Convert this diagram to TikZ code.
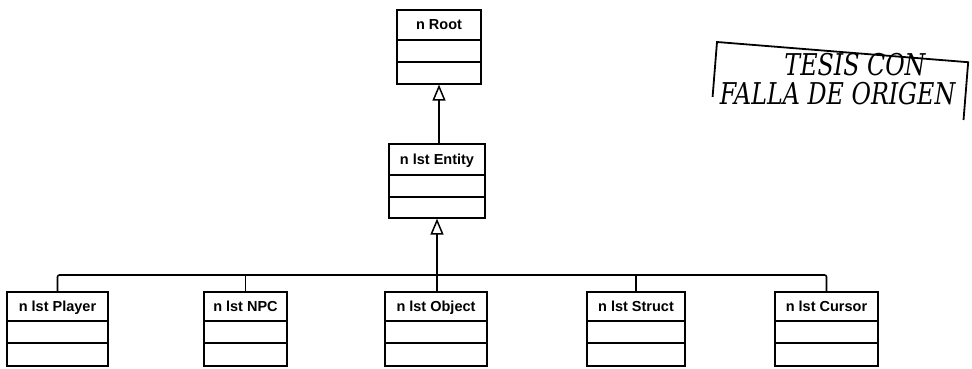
\documentclass[tikz,border=0pt]{standalone}
\usepackage{fontspec}
\setmainfont{Liberation Sans}
\newfontfamily\stampfont{DejaVu Serif Condensed}
\usetikzlibrary{calc,arrows.meta}
\tikzset{
  umlbox/.style={draw, line width=1.6pt, minimum height=74pt, inner sep=0pt, anchor=north},
  umllabel/.style={font=\fontsize{14.5}{16}\selectfont\bfseries, inner sep=0pt, anchor=base},
  sepline/.style={line width=1.6pt},
  link/.style={line width=1.6pt},
  inherit/.style={line width=1.6pt, -{Triangle[open, width=13pt, length=16pt, line width=1.5pt]}},
  stampline/.style={line width=1.8pt},
  stamptext/.style={font=\stampfont\itshape\fontsize{30}{34}\selectfont, inner sep=0pt, xscale=0.88,
    text height=0.72em, text depth=0pt}
}
\newcommand{\umlclass}[6]{%
  \node[umlbox, minimum width=#4pt] (#1) at (#2,-#3) {};
  \node[umllabel] (#1-label) at ($(#1.north)+(0,-#6/2-5)$) {#5};
  \draw[sepline] ($(#1.north west)+(0,-#6)$) -- ($(#1.north east)+(0,-#6)$);
  \draw[sepline] ($(#1.north west)+(0,-#6-22)$) -- ($(#1.north east)+(0,-#6-22)$);
}
\begin{document}
\begin{tikzpicture}[x=1pt,y=1pt]
\useasboundingbox (0,0) rectangle (972,-369);
% classes
\umlclass{root}{439}{9}{84}{n Root}{31}
\umlclass{entity}{437}{143}{96}{n lst Entity}{32}
\umlclass{player}{57.5}{291}{101}{n lst Player}{30}
\umlclass{npc}{245.5}{291}{83}{n lst NPC}{30}
\umlclass{object}{436}{291}{102}{n lst Object}{30}
\umlclass{struct}{636}{291}{98}{n lst Struct}{30}
\umlclass{cursor}{826.5}{291}{103}{n lst Cursor}{30}
% bus
\coordinate (bus) at (437,-275);
\draw[inherit] (entity.north -| root.south) -- (root.south);
\draw[inherit] (object.north -| entity.south) -- (entity.south);
\draw[link, rounded corners=2pt] (player.north) |- (bus) -| (cursor.north);
\draw[link] (npc.north) -- (npc.north |- bus);
\draw[link] (struct.north) -- (struct.north |- bus);
% stamp
\begin{scope}[shift={(717,-42)}, rotate=-4.6]
  \coordinate (s1) at (0,-55);
  \coordinate (s2) at (0,0);
  \coordinate (s3) at (252,0);
  \coordinate (s4) at (252,-58);
  \draw[stampline] (s1) -- (s2) -- (s3) -- (s4);
  \node[stamptext] (stampA) at (140,-19) {TESIS CON};
  \node[stamptext] (stampB) at (125,-49) {FALLA DE ORIGEN};
\end{scope}
\end{tikzpicture}
\end{document}
